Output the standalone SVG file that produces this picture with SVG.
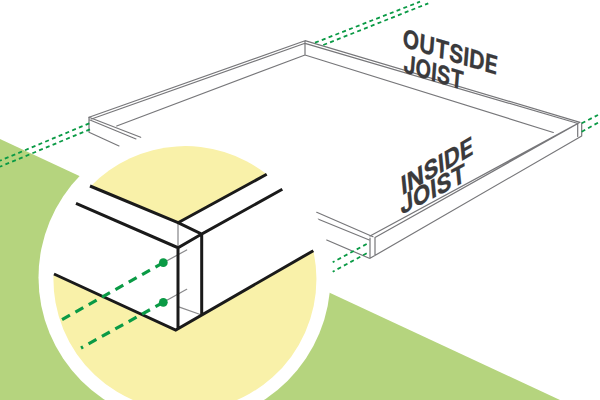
<svg xmlns="http://www.w3.org/2000/svg" width="600" height="400" viewBox="0 0 600 400">
<style>
.g{fill:none;stroke:#77777a;stroke-width:1.2;stroke-linecap:round;stroke-linejoin:round}
.i{fill:none;stroke:#8a8a8c;stroke-width:1.25;stroke-linecap:round}
.k{fill:none;stroke:#1a1a1a;stroke-width:3;stroke-linecap:butt;stroke-linejoin:miter}
.d{fill:none;stroke:#0a9a45;stroke-width:1.8;stroke-dasharray:4 3.3}
.D{fill:none;stroke:#0a9a45;stroke-width:3.2;stroke-dasharray:9 6.3}
.t{font-family:"Inter","Liberation Sans",sans-serif;font-weight:700;fill:#3a3a3c;stroke:#3a3a3c;stroke-width:.2;font-size:25px}
.y{fill:#f9f1a9}
</style>
<rect width="600" height="400" fill="#fff"/>
<polygon id="ground" points="0,139 560,400 0,400" fill="#b5d47e"/>
<g id="frame">
<path class="g" d="M89,117.3L305,40.7L580,122.3L370,236M91.5,119L305,43.3L578,123.5L375,237.5M116.7,126L305,55L553.3,132.5M305,40.7V55M370,238V258.3L581.7,136V123M577.7,124V136.5M375,237.5V255.5"/>
<path class="g" d="M89,117.3L140.7,137.3M90,120L136,139M89,117.3V132.3L119,146"/>
<path class="g" d="M316.7,212.3L373,236.7M316,218.3L369.3,240M326.7,240L369.3,258.3"/>
</g>
<g id="dashes-far">
<path class="d" d="M89.3,123.3L0,160.7M90,129.3L0,166.7"/>
<path class="d" d="M315,42.7L420,1.7M323.3,45L428.3,3.3"/>
<path class="d" d="M581.7,123.3L598,115M581.7,131.7L598,122.7"/>
<path class="d" d="M366.7,244L332.7,262.3M366.7,253.3L332.7,271.7"/>
</g>
<g id="detail">
<circle cx="184.5" cy="277.5" r="146" fill="#fff"/>
<path class="y" d="M91,186L178,222.7L266.7,174.3A131.5,131.5 0 0 0 91,186Z"/>
<path class="y" d="M53.5,275L175.7,330L313.3,250.7A131.5,131.5 0 1 1 53.5,275Z"/>
<path class="i" d="M178,222.7V247.7M163.3,262.7L186.7,250M163.3,302.3L186.7,289.3M178,306.7L201.7,315"/>
<path class="k" d="M90,186L178,222.7L201.7,234L282.3,189.3M178,222.7L266.7,174.3M76,203.3L178,247.7L201.7,234V315M178,247.7V329M54,274L175.7,330L313.3,250.7"/>
<path class="D" d="M163.3,262.7L60,320.7M163.3,302.3L81,348"/>
<circle cx="163.3" cy="262.7" r="4.4" fill="#0a9a45"/>
<circle cx="163.3" cy="302.3" r="4.4" fill="#0a9a45"/>
</g>
<g id="labels">
<text class="t" transform="matrix(1,.3,-.08,1,402,46.5)" textLength="95" lengthAdjust="spacingAndGlyphs">OUTSIDE</text>
<text class="t" transform="matrix(1,.3,-.08,1,403,72)" textLength="60" lengthAdjust="spacingAndGlyphs">JOIST</text>
<text class="t" transform="matrix(1,-.58,.1,1,402,195.5)" textLength="72" lengthAdjust="spacingAndGlyphs">INSIDE</text>
<text class="t" transform="matrix(1,-.52,.1,1,401,215)" textLength="66" lengthAdjust="spacingAndGlyphs">JOIST</text>
</g>
</svg>
